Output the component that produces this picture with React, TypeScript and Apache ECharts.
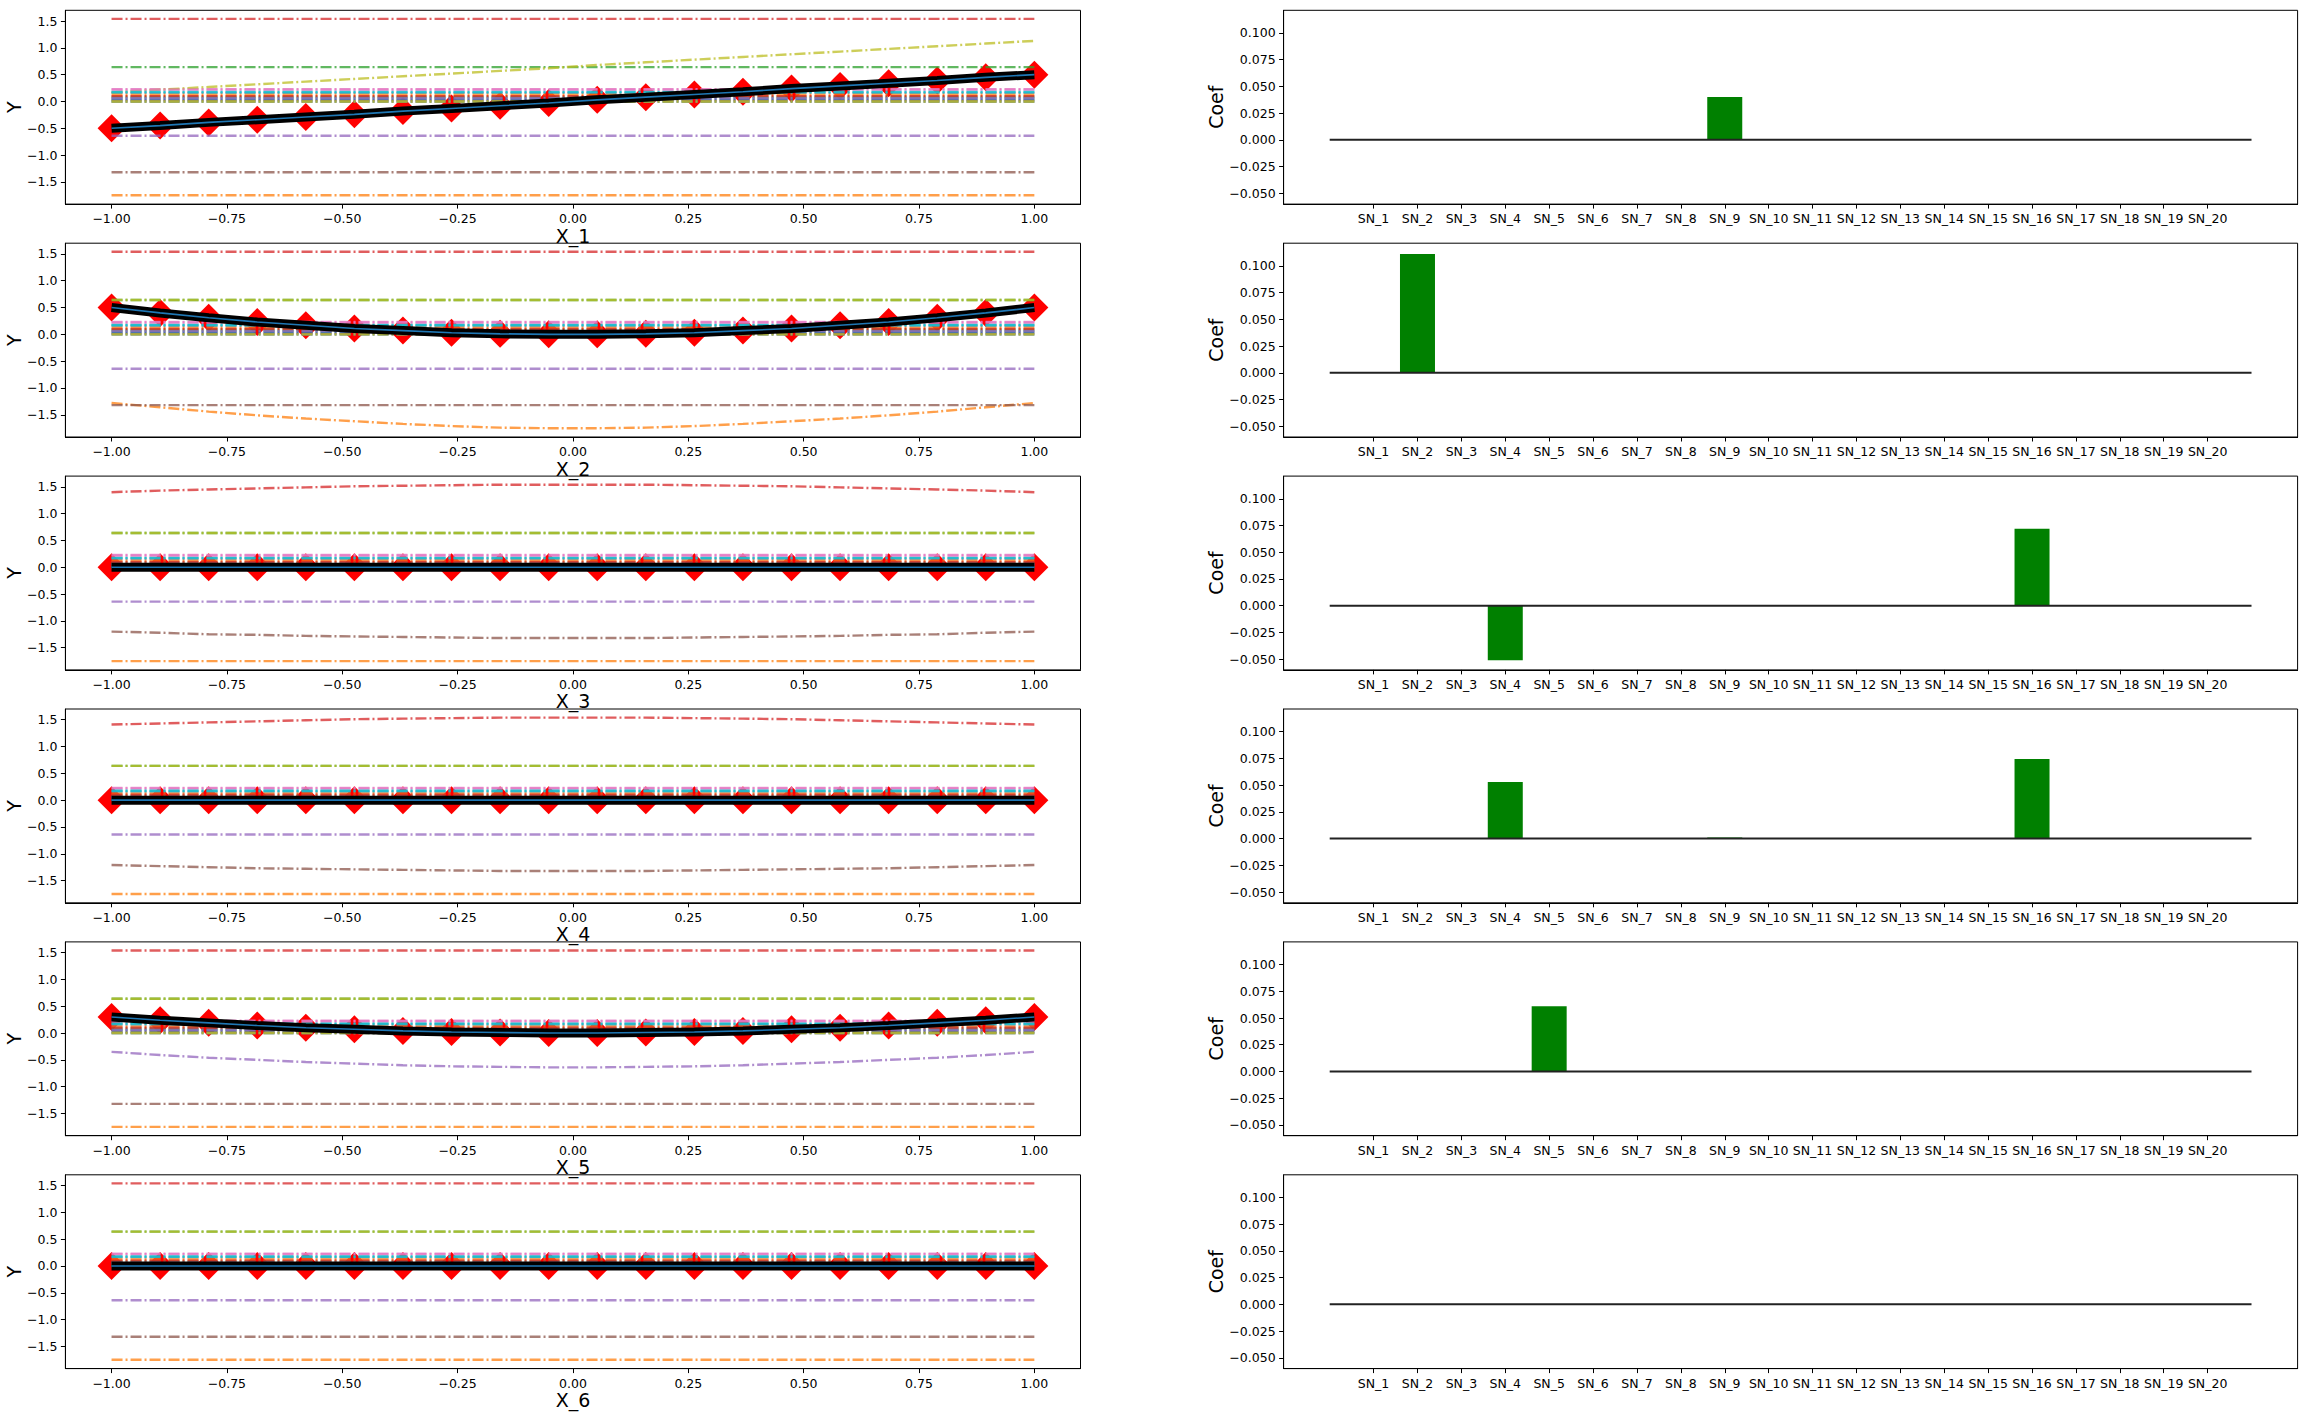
import React, { useEffect, useRef } from "react";
import * as echarts from "echarts";

// ---------- data ----------
const TAB10 = ["#1f77b4", "#ff7f0e", "#2ca02c", "#d62728", "#9467bd", "#8c564b", "#e377c2", "#7f7f7f", "#bcbd22", "#17becf"];

const X_GRID = [-1, -0.8947, -0.7895, -0.6842, -0.5789, -0.4737, -0.3684, -0.2632, -0.1579, -0.0526,
  0.0526, 0.1579, 0.2632, 0.3684, 0.4737, 0.5789, 0.6842, 0.7895, 0.8947, 1];

const SN_NAMES = ["SN_1", "SN_2", "SN_3", "SN_4", "SN_5", "SN_6", "SN_7", "SN_8", "SN_9", "SN_10",
  "SN_11", "SN_12", "SN_13", "SN_14", "SN_15", "SN_16", "SN_17", "SN_18", "SN_19", "SN_20"];

// level of each SN term when its feature is not the one varied
const SN_LEVEL = [0.0, -1.75, 0.64, 1.54, -0.64, 0.03, 0.23, 0.16, 0.64, 0.18,
  0.05, 0.12, 0.08, 0.10, 0.06, -1.32, 0.22, 0.0, 0.0, 0.17];

// varying terms
const SN9_X1 = [0.17, 0.22, 0.27, 0.32, 0.37, 0.42, 0.47, 0.52, 0.57, 0.62, 0.68, 0.73, 0.78, 0.83, 0.88, 0.93, 0.98, 1.03, 1.08, 1.13];
const SN2_X2 = [-1.28, -1.36, -1.44, -1.51, -1.57, -1.62, -1.67, -1.71, -1.74, -1.75, -1.75, -1.74, -1.71, -1.67, -1.62, -1.57, -1.51, -1.44, -1.36, -1.28];
const SN4_X3 = [1.40, 1.43, 1.45, 1.47, 1.49, 1.51, 1.52, 1.53, 1.54, 1.54, 1.54, 1.54, 1.53, 1.52, 1.51, 1.49, 1.47, 1.45, 1.43, 1.40];
const SN16_X3 = [-1.20, -1.22, -1.25, -1.26, -1.28, -1.29, -1.30, -1.31, -1.32, -1.32, -1.32, -1.32, -1.31, -1.30, -1.29, -1.28, -1.26, -1.25, -1.22, -1.20];
const SN4_X4 = [1.41, 1.43, 1.45, 1.47, 1.49, 1.51, 1.52, 1.53, 1.54, 1.54, 1.54, 1.54, 1.53, 1.52, 1.51, 1.49, 1.47, 1.45, 1.43, 1.41];
const SN16_X4 = [-1.21, -1.23, -1.25, -1.27, -1.28, -1.29, -1.30, -1.31, -1.32, -1.32, -1.32, -1.32, -1.31, -1.30, -1.29, -1.28, -1.27, -1.25, -1.23, -1.21];
const SN5_X5 = [-0.35, -0.41, -0.46, -0.50, -0.54, -0.57, -0.60, -0.62, -0.63, -0.64, -0.64, -0.63, -0.62, -0.60, -0.57, -0.54, -0.50, -0.46, -0.41, -0.35];

// main response curves (black/blue line + red diamonds)
const Y_X1 = [-0.50, -0.45, -0.39, -0.34, -0.29, -0.24, -0.18, -0.13, -0.08, -0.03, 0.03, 0.08, 0.13, 0.18, 0.24, 0.29, 0.34, 0.39, 0.45, 0.50];
const Y_X2 = [0.50, 0.40, 0.31, 0.23, 0.17, 0.11, 0.07, 0.03, 0.01, 0.00, 0.00, 0.01, 0.03, 0.07, 0.11, 0.17, 0.23, 0.31, 0.40, 0.50];
const Y_X3 = [0, 0, 0, 0, 0, 0, 0, 0, 0, 0, 0, 0, 0, 0, 0, 0, 0, 0, 0, 0];
const Y_X4 = [0, 0, 0, 0, 0, 0, 0, 0, 0, 0, 0, 0, 0, 0, 0, 0, 0, 0, 0, 0];
const Y_X5 = [0.30, 0.24, 0.19, 0.14, 0.10, 0.07, 0.04, 0.02, 0.01, 0.00, 0.00, 0.01, 0.02, 0.04, 0.07, 0.10, 0.14, 0.19, 0.24, 0.30];
const Y_X6 = [0, 0, 0, 0, 0, 0, 0, 0, 0, 0, 0, 0, 0, 0, 0, 0, 0, 0, 0, 0];

// coefficients (right column)
const COEF_1 = [0, 0, 0, 0, 0, 0, 0, 0, 0.040, 0, 0, 0, 0, 0, 0, 0, 0, 0, 0, 0];
const COEF_2 = [0, 0.111, 0, 0, 0, 0, 0, 0, 0, 0, 0, 0, 0, 0, 0, 0, 0, 0, 0, 0];
const COEF_3 = [0, 0, 0, -0.051, 0, 0, 0, 0, 0, 0, 0, 0, 0, 0, 0, 0.072, 0, 0, 0, 0];
const COEF_4 = [0, 0, 0, 0.053, 0, 0, 0, 0, 0.001, 0, 0, 0, 0, 0, 0, 0.0745, 0, 0, 0, 0];
const COEF_5 = [0, 0, 0, 0, 0.061, 0, 0, 0, 0, 0, 0, 0, 0, 0, 0, 0, 0, 0, 0, 0];
const COEF_6 = [0, 0, 0, 0, 0, 0, 0, 0, 0, 0, 0, 0, 0, 0, 0, 0, 0, 0, 0, 0];

const X_TICKS = [-1, -0.75, -0.5, -0.25, 0, 0.25, 0.5, 0.75, 1];
const Y_TICKS = [-1.5, -1, -0.5, 0, 0.5, 1, 1.5];
const COEF_TICKS = [-0.05, -0.025, 0, 0.025, 0.05, 0.075, 0.1];
const SN_POS = [1, 2, 3, 4, 5, 6, 7, 8, 9, 10, 11, 12, 13, 14, 15, 16, 17, 18, 19, 20];
const X_NAMES = ["X_1", "X_2", "X_3", "X_4", "X_5", "X_6"];

const MAIN = [Y_X1, Y_X2, Y_X3, Y_X4, Y_X5, Y_X6];
const COEFS = [COEF_1, COEF_2, COEF_3, COEF_4, COEF_5, COEF_6];
// panel -> {term index -> values}
const VARYING: Record<number, number[]>[] = [
  { 8: SN9_X1 },
  { 1: SN2_X2 },
  { 3: SN4_X3, 15: SN16_X3 },
  { 3: SN4_X4, 15: SN16_X4 },
  { 4: SN5_X5 },
  {},
];

// ---------- layout ----------
const W = 2307;
const H = 1418;
const ROW_TOP0 = 10.3;
const ROW_STEP = 232.9;
const ROW_H = 193.8;
const L_LEFT = 65.4;
const L_W = 1015.1;
const R_LEFT = 1283.6;
const R_W = 1014;
const FONT = "DejaVu Sans";

const minus = (s: string) => s.replace("-", "\u2212");

function buildOption() {
  const grid: any[] = [];
  const xAxis: any[] = [];
  const yAxis: any[] = [];
  const series: any[] = [];
  const labelStyle = { color: "#000", fontSize: 12.5, fontFamily: FONT, margin: 8 };
  const tickStyle = { show: true, length: 4.5, lineStyle: { color: "#000", width: 1 } };
  const lineAxis = { show: true, onZero: false, lineStyle: { color: "#000", width: 1 } };
  const nameStyle = { color: "#000", fontSize: 19, fontFamily: FONT };

  for (let p = 0; p < 6; p++) {
    const top = ROW_TOP0 + ROW_STEP * p;
    // left grid
    const gl = grid.length;
    grid.push({ left: L_LEFT, top, width: L_W, height: ROW_H, show: true, borderColor: "#000", borderWidth: 1, containLabel: false });
    xAxis.push({
      type: "value", gridIndex: gl, min: -1.1, max: 1.1,
      axisLine: lineAxis, splitLine: { show: false },
      axisTick: { ...tickStyle, customValues: X_TICKS },
      axisLabel: { ...labelStyle, customValues: X_TICKS, formatter: (v: number) => minus(v.toFixed(2)) },
      name: X_NAMES[p], nameLocation: "middle", nameGap: 22, nameTextStyle: nameStyle,
    });
    yAxis.push({
      type: "value", gridIndex: gl, min: -1.914, max: 1.70,
      axisLine: lineAxis, splitLine: { show: false },
      axisTick: { ...tickStyle, customValues: Y_TICKS },
      axisLabel: { ...labelStyle, customValues: Y_TICKS, formatter: (v: number) => minus(v.toFixed(1)) },
      name: "Y", nameLocation: "middle", nameGap: 42, nameTextStyle: nameStyle,
    });
    for (let k = 0; k < 20; k++) {
      const vals = VARYING[p][k];
      const data = X_GRID.map((x, i) => [x, vals ? vals[i] : SN_LEVEL[k]]);
      series.push({
        type: "line", name: SN_NAMES[k], xAxisIndex: gl, yAxisIndex: gl, data,
        symbol: "none", silent: true,
        lineStyle: { color: TAB10[k % 10], width: 2.4, type: [11, 3, 2, 3], opacity: 0.75 },
      });
    }
    const main = X_GRID.map((x, i) => [x, MAIN[p][i]]);
    series.push({ type: "line", xAxisIndex: gl, yAxisIndex: gl, data: main, symbol: "none", silent: true, lineStyle: { color: "#000", width: 9, cap: "butt" } });
    series.push({ type: "line", xAxisIndex: gl, yAxisIndex: gl, data: main, symbol: "none", silent: true, lineStyle: { color: "#1f77b4", width: 1.6 } });
    series.push({ type: "scatter", xAxisIndex: gl, yAxisIndex: gl, data: main, symbol: "diamond", symbolSize: 28, silent: true, itemStyle: { color: "#ff0000", opacity: 1 } });

    // right grid
    const gr = grid.length;
    grid.push({ left: R_LEFT, top, width: R_W, height: ROW_H, show: true, borderColor: "#000", borderWidth: 1, containLabel: false });
    xAxis.push({
      type: "value", gridIndex: gr, min: -1.05, max: 22.05,
      axisLine: lineAxis, splitLine: { show: false },
      axisTick: { ...tickStyle, customValues: SN_POS },
      axisLabel: { ...labelStyle, customValues: SN_POS, formatter: (v: number) => SN_NAMES[Math.round(v) - 1] ?? "" },
    });
    yAxis.push({
      type: "value", gridIndex: gr, min: -0.0601, max: 0.1212,
      axisLine: lineAxis, splitLine: { show: false },
      axisTick: { ...tickStyle, customValues: COEF_TICKS },
      axisLabel: { ...labelStyle, customValues: COEF_TICKS, formatter: (v: number) => minus(v.toFixed(3)) },
      name: "Coef", nameLocation: "middle", nameGap: 55, nameTextStyle: nameStyle,
    });
    series.push({
      type: "bar", xAxisIndex: gr, yAxisIndex: gr, barWidth: 35, silent: true,
      data: COEFS[p].map((v, i) => [SN_POS[i], v]),
      itemStyle: { color: "#008000" },
    });
    series.push({
      type: "line", xAxisIndex: gr, yAxisIndex: gr, symbol: "none", silent: true,
      data: [[0, 0], [21, 0]],
      lineStyle: { color: "#222", width: 2 },
    });
  }

  return { animation: false, backgroundColor: "#fff", grid, xAxis, yAxis, series };
}

export default function App() {
  const ref = useRef<HTMLDivElement>(null);
  useEffect(() => {
    document.body.style.margin = "0";
    if (!ref.current) return;
    const chart = echarts.init(ref.current, undefined, { renderer: "svg", width: W, height: H });
    chart.setOption(buildOption() as any);
    return () => chart.dispose();
  }, []);
  return <div ref={ref} style={{ position: "absolute", left: 0, top: 0, width: W, height: H, background: "#fff" }} />;
}
